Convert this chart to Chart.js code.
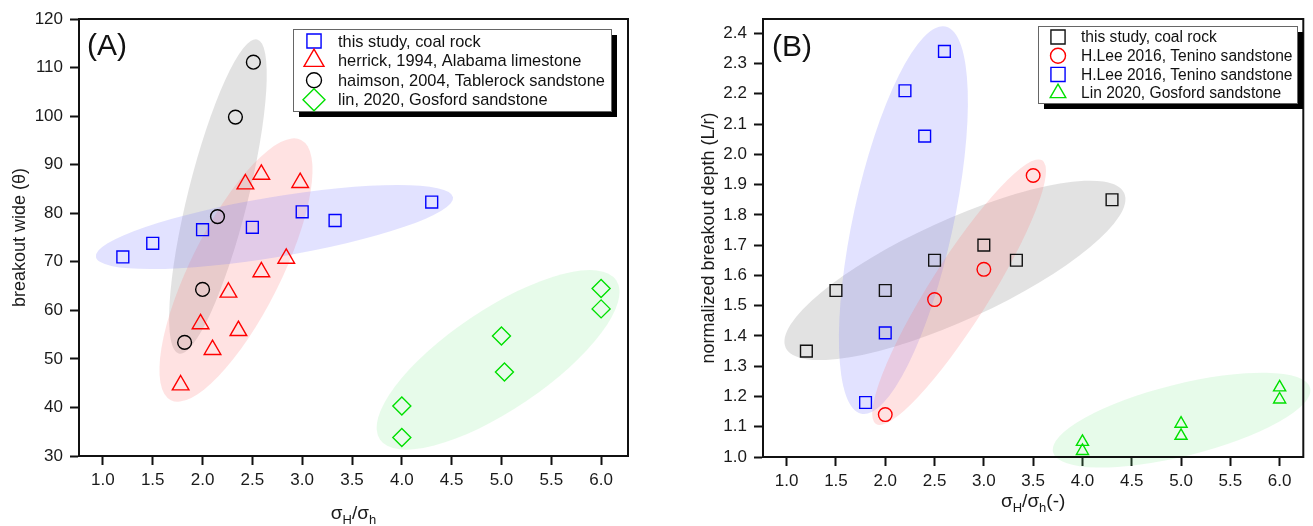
<!DOCTYPE html>
<html>
<head>
<meta charset="utf-8">
<script src="https://cdn.jsdelivr.net/npm/chart.js@4.4.1/dist/chart.umd.min.js"></script>
<style>
  html, body { margin: 0; padding: 0; background: #fff; }
  #wrap { position: relative; width: 1313px; height: 526px; }
  .panel { position: absolute; top: 0; }
</style>
</head>
<body>
<div id="wrap">
  <canvas id="chartA" class="panel" width="640" height="526" style="left:0px"></canvas>
  <canvas id="chartB" class="panel" width="653" height="526" style="left:660px"></canvas>
</div>
<script>
// ---------- panel A : breakout width vs stress ratio ----------
const coalRatioA = [1.2, 1.5, 2.0, 2.5, 3.0, 3.33, 4.3];
const coalWide = [71.0, 73.8, 76.6, 77.1, 80.3, 78.5, 82.3];

const herrickRatio = [1.78, 1.98, 2.10, 2.26, 2.36, 2.43, 2.59, 2.59, 2.84, 2.98];
const herrickWide = [44.6, 57.2, 51.9, 63.7, 55.8, 86.0, 88.0, 67.9, 70.7, 86.3];

const haimsonRatio = [1.82, 2.0, 2.15, 2.33, 2.51];
const haimsonWide = [53.4, 64.3, 79.3, 99.8, 111.1];

const linRatioA = [4.0, 4.0, 5.0, 5.03, 6.0, 6.0];
const linWide = [40.3, 33.8, 54.7, 47.3, 64.5, 60.3];

// ---------- panel B : normalized breakout depth ----------
const coalRatioB = [1.2, 1.5, 2.0, 2.5, 3.0, 3.33, 4.3];
const coalDepth = [1.35, 1.55, 1.55, 1.65, 1.70, 1.65, 1.85];

const leeCircRatio = [2.0, 2.5, 3.0, 3.5];
const leeCircDepth = [1.14, 1.52, 1.62, 1.93];

const leeSqRatio = [1.8, 2.0, 2.2, 2.4, 2.6];
const leeSqDepth = [1.18, 1.41, 2.21, 2.06, 2.34];

const linRatioB = [4.0, 4.0, 5.0, 5.0, 6.0, 6.0];
const linDepth = [1.05, 1.02, 1.11, 1.07, 1.23, 1.19];

const xTicks = [1.0, 1.5, 2.0, 2.5, 3.0, 3.5, 4.0, 4.5, 5.0, 5.5, 6.0];

// shaded clouds: major axis end points in data units, half width in px
const cloudsA = [
  { from: [1.761, 51.1], to: [2.548, 115.8], half: 30, fill: 'rgba(140,140,140,0.25)' },
  { from: [1.682, 41.5], to: [2.989, 95.1], half: 45, fill: 'rgba(255,110,110,0.20)' },
  { from: [0.93, 71.0], to: [4.514, 83.3], half: 30, fill: 'rgba(110,110,255,0.20)' },
  { from: [3.78, 33.4], to: [6.152, 66.2], half: 50, fill: 'rgba(110,230,130,0.17)' }
];
const cloudsB = [
  { from: [0.99, 1.361], to: [4.423, 1.872], half: 50, fill: 'rgba(140,140,140,0.25)' },
  { from: [1.757, 1.143], to: [2.611, 2.422], half: 50, fill: 'rgba(110,110,255,0.20)' },
  { from: [1.906, 1.109], to: [3.592, 1.980], half: 30, fill: 'rgba(255,110,110,0.20)' },
  { from: [3.702, 1.016], to: [6.309, 1.228], half: 36, fill: 'rgba(110,230,130,0.17)' }
];

Chart.defaults.font.family = '"Liberation Sans", Arial, Helvetica, sans-serif';
Chart.defaults.color = '#1a1a1a';

function pts(xs, ys) {
  return xs.map((x, i) => ({ x: x, y: ys[i] }));
}

function series(label, xs, ys, color, style, r) {
  return {
    label: label,
    data: pts(xs, ys),
    showLine: false,
    pointStyle: style,
    pointRadius: r,
    pointHoverRadius: r,
    pointBorderWidth: 1.4,
    borderColor: color,
    pointBackgroundColor: 'rgba(0,0,0,0)',
    backgroundColor: 'rgba(0,0,0,0)'
  };
}

// clouds, frame, panel tag, boxed legend and sub-scripted x title
const decor = {
  id: 'decor',
  beforeDatasetsDraw(chart, args, o) {
    const ctx = chart.ctx, xs = chart.scales.x, ys = chart.scales.y;
    o.clouds.forEach(c => {
      const x1 = xs.getPixelForValue(c.from[0]), y1 = ys.getPixelForValue(c.from[1]);
      const x2 = xs.getPixelForValue(c.to[0]), y2 = ys.getPixelForValue(c.to[1]);
      const a = Math.hypot(x2 - x1, y2 - y1) / 2;
      ctx.save();
      ctx.translate((x1 + x2) / 2, (y1 + y2) / 2);
      ctx.rotate(Math.atan2(y2 - y1, x2 - x1));
      ctx.beginPath();
      ctx.ellipse(0, 0, a, c.half, 0, 0, Math.PI * 2);
      ctx.fillStyle = c.fill;
      ctx.fill();
      ctx.restore();
    });
  },
  afterDraw(chart, args, o) {
    const ctx = chart.ctx, area = chart.chartArea;
    ctx.save();
    // frame
    ctx.strokeStyle = '#111';
    ctx.lineWidth = 2;
    ctx.strokeRect(area.left, area.top, area.right - area.left, area.bottom - area.top);

    // panel tag
    ctx.fillStyle = '#111';
    ctx.font = '30px "Liberation Sans", Arial, sans-serif';
    ctx.textBaseline = 'middle';
    ctx.textAlign = 'left';
    ctx.fillText(o.tag, area.left + o.tagDx, o.tagY);

    // legend with drop shadow
    const L = o.legend;
    ctx.fillStyle = '#000';
    ctx.fillRect(L.x + 6, L.y + 6, L.w, L.h);
    ctx.fillStyle = '#fff';
    ctx.fillRect(L.x, L.y, L.w, L.h);
    ctx.strokeStyle = '#666';
    ctx.lineWidth = 1;
    ctx.strokeRect(L.x + 0.5, L.y + 0.5, L.w, L.h);
    ctx.font = L.font + 'px "Liberation Sans", Arial, sans-serif';
    chart.data.datasets.forEach((ds, i) => {
      const y = L.y + L.row0 + i * L.step;
      ctx.strokeStyle = ds.borderColor;
      ctx.fillStyle = 'rgba(0,0,0,0)';
      ctx.lineWidth = 1.4;
      Chart.helpers.drawPoint(ctx, {
        pointStyle: ds.pointStyle,
        radius: L.radius[ds.pointStyle],
        rotation: 0,
        borderWidth: 1.4
      }, L.x + L.symDx, y);
      ctx.fillStyle = '#111';
      ctx.textBaseline = 'middle';
      ctx.fillText(ds.label, L.x + L.textDx, y + 1);
    });

    // x axis title with subscripts
    const big = '19px "Liberation Sans", Arial, sans-serif';
    const small = '13px "Liberation Sans", Arial, sans-serif';
    let total = 0;
    o.xTitle.forEach(p => { ctx.font = p[1] ? small : big; total += ctx.measureText(p[0]).width; });
    let x = (area.left + area.right) / 2 - total / 2;
    ctx.fillStyle = '#1a1a1a';
    ctx.textBaseline = 'alphabetic';
    o.xTitle.forEach(p => {
      ctx.font = p[1] ? small : big;
      ctx.fillText(p[0], x, o.xTitleY + (p[1] ? 5 : 0));
      x += ctx.measureText(p[0]).width;
    });
    ctx.restore();
  }
};

function axisX(min, max, height) {
  return {
    type: 'linear', min: min, max: max, z: 1,
    afterFit: s => { s.height = height; },
    afterBuildTicks: s => { s.ticks = xTicks.map(v => ({ value: v })); },
    ticks: { font: { size: 17 }, padding: 5, callback: v => v.toFixed(1) },
    grid: { drawOnChartArea: false, drawTicks: true, tickLength: 9, tickWidth: 2, tickColor: '#111' },
    border: { display: true, width: 2, color: '#111' }
  };
}

function axisY(min, max, step, width, title, titlePad, digits) {
  return {
    type: 'linear', min: min, max: max, z: 1,
    afterFit: s => { s.width = width; },
    ticks: { stepSize: step, includeBounds: false, font: { size: 17 }, padding: 7,
             callback: v => v.toFixed(digits) },
    grid: { drawOnChartArea: false, drawTicks: true, tickLength: 9, tickWidth: 2, tickColor: '#111' },
    border: { display: true, width: 2, color: '#111' },
    title: { display: true, text: title, font: { size: 18 }, color: '#1a1a1a',
             padding: { top: titlePad, bottom: 0 } }
  };
}

new Chart('chartA', {
  type: 'scatter',
  data: {
    datasets: [
      series('this study, coal rock', coalRatioA, coalWide, '#0000ff', 'rect', 8.4),
      series('herrick, 1994, Alabama limestone', herrickRatio, herrickWide, '#ff0000', 'triangle', 9.6),
      series('haimson, 2004, Tablerock sandstone', haimsonRatio, haimsonWide, '#000000', 'circle', 6.9),
      series('lin, 2020, Gosford sandstone', linRatioA, linWide, '#00e000', 'rectRot', 9)
    ]
  },
  options: {
    responsive: false,
    animation: false,
    layout: { padding: { top: 19, right: 12, left: 0, bottom: 0 } },
    scales: {
      x: axisX(0.76, 6.27, 70),
      y: axisY(30, 120, 10, 79, 'breakout wide (θ)', 9, 0)
    },
    plugins: {
      legend: { display: false },
      tooltip: { enabled: false },
      decor: {
        clouds: cloudsA,
        tag: '(A)', tagDx: 8, tagY: 47,
        legend: { x: 293, y: 29, w: 318, h: 82, row0: 12, step: 19.6, symDx: 21, textDx: 45, font: 16.4,
                  radius: { rect: 10, triangle: 11.5, circle: 7.5, rectRot: 11 } },
        xTitle: [['σ', 0], ['H', 1], ['/σ', 0], ['h', 1]],
        xTitleY: 519
      }
    }
  },
  plugins: [decor]
});

new Chart('chartB', {
  type: 'scatter',
  data: {
    datasets: [
      series('this study, coal rock', coalRatioB, coalDepth, '#111111', 'rect', 8.3),
      series('H.Lee 2016, Tenino sandstone', leeCircRatio, leeCircDepth, '#ff0000', 'circle', 6.8),
      series('H.Lee 2016, Tenino sandstone', leeSqRatio, leeSqDepth, '#0000ff', 'rect', 8.3),
      series('Lin 2020, Gosford sandstone', linRatioB, linDepth, '#00e000', 'triangle', 7)
    ]
  },
  options: {
    responsive: false,
    animation: false,
    layout: { padding: { top: 19, right: 4, left: 0, bottom: 0 } },
    scales: {
      x: axisX(0.76, 6.24, 69),
      y: axisY(1.0, 2.447, 0.1, 103, 'normalized breakout depth (L/r)', 38, 1)
    },
    plugins: {
      legend: { display: false },
      tooltip: { enabled: false },
      decor: {
        clouds: cloudsB,
        tag: '(B)', tagDx: 9, tagY: 48,
        legend: { x: 378, y: 26, w: 259, h: 77, row0: 11, step: 18.7, symDx: 20, textDx: 43, font: 15.6,
                  radius: { rect: 10, triangle: 9, circle: 7.5, rectRot: 11 } },
        xTitle: [['σ', 0], ['H', 1], ['/σ', 0], ['h', 1], ['(-)', 0]],
        xTitleY: 507
      }
    }
  },
  plugins: [decor]
});
</script>
</body>
</html>
